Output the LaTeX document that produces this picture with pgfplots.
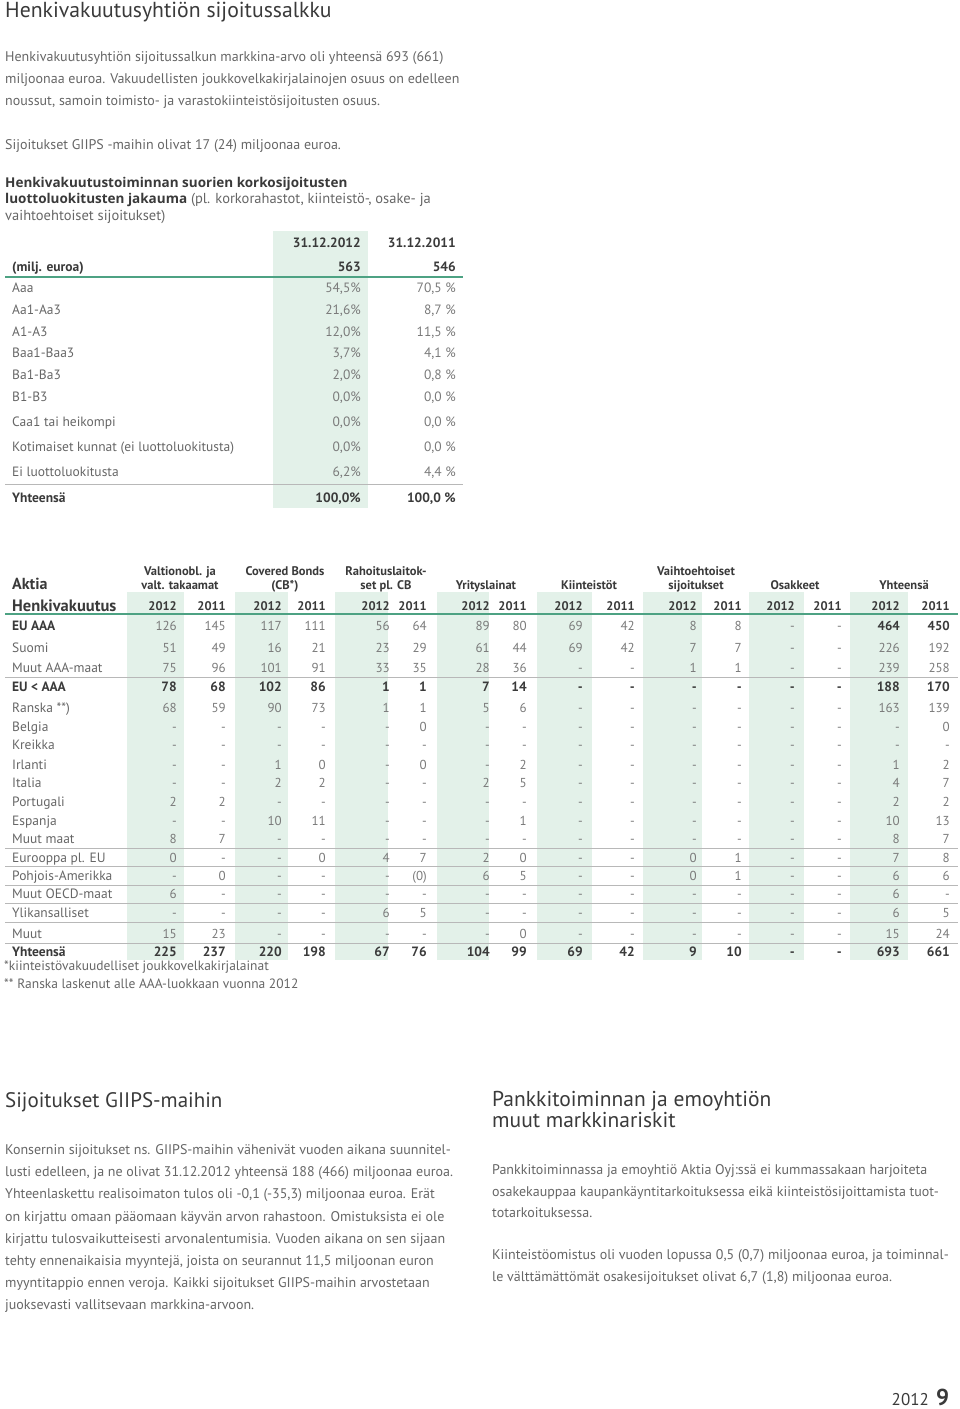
\documentclass[border=0pt]{standalone}
\usepackage{pgfplots}
\pgfplotsset{compat=1.18}
\usepackage{fontspec}
\setmainfont{PT Sans}
\newfontfamily\osans{Open Sans}

\definecolor{bodytxt}{HTML}{666666}
\definecolor{headtxt}{HTML}{3A3A3A}
\definecolor{valtxt}{HTML}{7A7A7A}
\definecolor{shade}{HTML}{E3F1E9}
\definecolor{greenrule}{HTML}{4DA283}
\definecolor{grayrule}{HTML}{B8B8B8}

\newcommand\fs[1]{\fontsize{#1}{#1}\selectfont}
% text line, left aligned on its baseline
\newcommand\tl[4][]{\node[anchor=base west, font=\fs{14}, text=bodytxt, #1] at (#2,#3) {#4};}
% right edges of the 16 value columns of the big table
\newcommand\colpos[1]{\ifcase#1\or177\or226\or282\or326\or390\or427\or490\or527\or583\or635\or697\or742\or795\or842\or900\or950\fi}
% one row of the big table: [style]{baseline}{label}{16 values}
\newcommand\vrow[4][]{%
  \node[anchor=base west, font=\fs{13.5}, text=bodytxt, #1] at (12,#2) {#3};
  \foreach \v [count=\i] in {#4} {
    \edef\xx{\colpos{\i}}
    \node[anchor=base east, font=\fs{13}, text=valtxt, #1] at (\xx,#2) {\v};
  }}
% one row of the rating table
\newcommand\rrow[4]{%
  \node[anchor=base west, font=\fs{13.5}, text=bodytxt] at (12,#1) {#2};
  \node[anchor=base east, font=\fs{13.5}, text=valtxt] at (361,#1) {#3};
  \node[anchor=base east, font=\fs{13.5}, text=valtxt] at (456,#1) {#4};}

\begin{document}
\begin{tikzpicture}
\begin{axis}[scale only axis, width=960pt, height=1409pt,
  xmin=0, xmax=960, ymin=0, ymax=1409, y dir=reverse,
  hide axis, clip=false]
\addplot[draw=none] coordinates {(0,0) (960,1409)};
% shaded 2012 columns
\addplot[fill=shade, draw=none] coordinates {(273,231) (368,231) (368,508) (273,508)};
\addplot[fill=shade, draw=none] coordinates {(127,592) (184,592) (184,960) (127,960)};
\addplot[fill=shade, draw=none] coordinates {(235,592) (288,592) (288,960) (235,960)};
\addplot[fill=shade, draw=none] coordinates {(335,592) (388,592) (388,960) (335,960)};
\addplot[fill=shade, draw=none] coordinates {(437,592) (489,592) (489,960) (437,960)};
\addplot[fill=shade, draw=none] coordinates {(537,592) (592,592) (592,960) (537,960)};
\addplot[fill=shade, draw=none] coordinates {(643,592) (702,592) (702,960) (643,960)};
\addplot[fill=shade, draw=none] coordinates {(749,592) (804,592) (804,960) (749,960)};
\addplot[fill=shade, draw=none] coordinates {(850,592) (908,592) (908,960) (850,960)};
% rules
\addplot[greenrule, line width=1.3pt] coordinates {(5,277) (463,277)};
\addplot[grayrule, line width=0.9pt] coordinates {(5,484) (463,484)};
\addplot[greenrule, line width=1.3pt] coordinates {(5,614) (958,614)};
\addplot[grayrule, line width=0.9pt] coordinates {(5,677) (958,677)};
\addplot[grayrule, line width=0.9pt] coordinates {(5,848) (958,848)};
\addplot[grayrule, line width=0.9pt] coordinates {(5,866) (958,866)};
\addplot[grayrule, line width=0.9pt] coordinates {(5,885) (958,885)};
\addplot[grayrule, line width=0.9pt] coordinates {(5,903) (958,903)};
\addplot[grayrule, line width=0.9pt] coordinates {(5,922) (958,922)};
\addplot[grayrule, line width=0.9pt] coordinates {(5,943) (958,943)};
\end{axis}

\begin{scope}[x=1pt, y=-1pt, yshift=1409pt, every node/.style={inner sep=0pt}]
% top text
\tl[font=\fs{21.7}, text=headtxt]{5}{18}{Henkivakuutusyhtiön sijoitussalkku}
\tl{5}{62}{Henkivakuutusyhtiön sijoitussalkun markkina-arvo oli yhteensä 693 (661)}
\tl{5}{84}{miljoonaa euroa. Vakuudellisten joukkovelkakirjalainojen osuus on edelleen}
\tl{5}{106}{noussut, samoin toimisto- ja varastokiinteistösijoitusten osuus.}
\tl{5}{150}{Sijoitukset GIIPS -maihin olivat 17 (24) miljoonaa euroa.}
\tl[font=\fs{14.5}]{5}{188}{\textcolor{headtxt}{\osans\fs{13.5}\bfseries Henkivakuutustoiminnan suorien korkosijoitusten}}
\tl[font=\fs{14.5}]{5}{204}{\textcolor{headtxt}{\osans\fs{13.5}\bfseries luottoluokitusten jakauma} (pl. korkorahastot, kiinteistö-, osake- ja}
\tl[font=\fs{14.5}]{5}{221}{vaihtoehtoiset sijoitukset)}

% rating table
\node[anchor=base east, font=\fs{13.5}\bfseries, text=headtxt] at (361,248) {31.12.2012};
\node[anchor=base east, font=\fs{13.5}\bfseries, text=headtxt] at (456,248) {31.12.2011};
\tl[font=\fs{13.5}\bfseries, text=headtxt]{12}{272}{(milj. euroa)}
\node[anchor=base east, font=\fs{13.5}\bfseries, text=headtxt] at (361,272) {563};
\node[anchor=base east, font=\fs{13.5}\bfseries, text=headtxt] at (456,272) {546};
\rrow{293}{Aaa}{54,5\%}{70,5 \%}
\rrow{315}{Aa1-Aa3}{21,6\%}{8,7 \%}
\rrow{337}{A1-A3}{12,0\%}{11,5 \%}
\rrow{358}{Baa1-Baa3}{3,7\%}{4,1 \%}
\rrow{380}{Ba1-Ba3}{2,0\%}{0,8 \%}
\rrow{402}{B1-B3}{0,0\%}{0,0 \%}
\rrow{427}{Caa1 tai heikompi}{0,0\%}{0,0 \%}
\rrow{452}{Kotimaiset kunnat (ei luottoluokitusta)}{0,0\%}{0,0 \%}
\rrow{477}{Ei luottoluokitusta}{6,2\%}{4,4 \%}
\tl[font=\fs{13.5}\bfseries, text=headtxt]{12}{503}{Yhteensä}
\node[anchor=base east, font=\fs{13.5}\bfseries, text=headtxt] at (361,503) {100,0\%};
\node[anchor=base east, font=\fs{13.5}\bfseries, text=headtxt] at (456,503) {100,0 \%};

% big table header
\tl[font=\fs{16}\bfseries, text=headtxt]{12}{590}{Aktia}
\tl[font=\fs{16.5}\bfseries, text=headtxt]{12}{612}{Henkivakuutus}
\begin{scope}[every node/.append style={anchor=base, font=\fs{12.5}\bfseries, text=headtxt}]
\node at (180,576) {Valtionobl. ja};   \node at (180,590) {valt. takaamat};
\node at (285,576) {Covered Bonds};    \node at (285,590) {(CB*)};
\node at (386,576) {Rahoituslaitok-};  \node at (386,590) {set pl. CB};
\node at (486,590) {Yrityslainat};
\node at (589,590) {Kiinteistöt};
\node at (696,576) {Vaihtoehtoiset};   \node at (696,590) {sijoitukset};
\node at (795,590) {Osakkeet};
\node at (904,590) {Yhteensä};
\end{scope}
\foreach \i in {1,...,16} {
  \edef\xx{\colpos{\i}}
  \ifodd\i \def\yr{2012}\else \def\yr{2011}\fi
  \node[anchor=base east, font=\fs{12.5}\bfseries, text=headtxt] at (\xx,611) {\yr};
}

% big table rows
\vrow{631}{\textcolor{headtxt}{\bfseries EU AAA}}{126,145,117,111,56,64,89,80,69,42,8,8,-,-,\textbf{\textcolor{headtxt}{464}},\textbf{\textcolor{headtxt}{450}}}
\vrow{653}{Suomi}{51,49,16,21,23,29,61,44,69,42,7,7,-,-,226,192}
\vrow{673}{Muut AAA-maat}{75,96,101,91,33,35,28,36,-,-,1,1,-,-,239,258}
\vrow[font=\fs{13.5}\bfseries, text=headtxt]{692}{EU < AAA}{78,68,102,86,1,1,7,14,-,-,-,-,-,-,188,170}
\vrow{713}{Ranska **)}{68,59,90,73,1,1,5,6,-,-,-,-,-,-,163,139}
\vrow{732}{Belgia}{-,-,-,-,-,0,-,-,-,-,-,-,-,-,-,0}
\vrow{750}{Kreikka}{-,-,-,-,-,-,-,-,-,-,-,-,-,-,-,-}
\vrow{770}{Irlanti}{-,-,1,0,-,0,-,2,-,-,-,-,-,-,1,2}
\vrow{788}{Italia}{-,-,2,2,-,-,2,5,-,-,-,-,-,-,4,7}
\vrow{807}{Portugali}{2,2,-,-,-,-,-,-,-,-,-,-,-,-,2,2}
\vrow{826}{Espanja}{-,-,10,11,-,-,-,1,-,-,-,-,-,-,10,13}
\vrow{844}{Muut maat}{8,7,-,-,-,-,-,-,-,-,-,-,-,-,8,7}
\vrow{863}{Eurooppa pl. EU}{0,-,-,0,4,7,2,0,-,-,0,1,-,-,7,8}
\vrow{881}{Pohjois-Amerikka}{-,0,-,-,-,(0),6,5,-,-,0,1,-,-,6,6}
\vrow{899}{Muut OECD-maat}{6,-,-,-,-,-,-,-,-,-,-,-,-,-,6,-}
\vrow{918}{Ylikansalliset}{-,-,-,-,6,5,-,-,-,-,-,-,-,-,6,5}
\vrow{939}{Muut}{15,23,-,-,-,-,-,0,-,-,-,-,-,-,15,24}
\vrow[font=\fs{13.5}\bfseries, text=headtxt]{957}{Yhteensä}{225,237,220,198,67,76,104,99,69,42,9,10,-,-,693,661}
\tl[font=\fs{13.5}]{4}{971}{*kiinteistövakuudelliset joukkovelkakirjalainat}
\tl[font=\fs{13.5}]{4}{989}{** Ranska laskenut alle AAA-luokkaan vuonna 2012}

% bottom left column
\tl[font=\fs{21}, text=headtxt]{5}{1108}{Sijoitukset GIIPS-maihin}
\tl{5}{1155}{Konsernin sijoitukset ns. GIIPS-maihin vähenivät vuoden aikana suunnitel-}
\tl{5}{1177}{lusti edelleen, ja ne olivat 31.12.2012 yhteensä 188 (466) miljoonaa euroa.}
\tl{5}{1199}{Yhteenlaskettu realisoimaton tulos oli -0,1 (-35,3) miljoonaa euroa. Erät}
\tl{5}{1222}{on kirjattu omaan pääomaan käyvän arvon rahastoon. Omistuksista ei ole}
\tl{5}{1244}{kirjattu tulosvaikutteisesti arvonalentumisia. Vuoden aikana on sen sijaan}
\tl{5}{1266}{tehty ennenaikaisia myyntejä, joista on seurannut 11,5 miljoonan euron}
\tl{5}{1288}{myyntitappio ennen veroja. Kaikki sijoitukset GIIPS-maihin arvostetaan}
\tl{5}{1310}{juoksevasti vallitsevaan markkina-arvoon.}

% bottom right column
\tl[font=\fs{21.5}, text=headtxt]{492}{1107}{Pankkitoiminnan ja emoyhtiön}
\tl[font=\fs{21.5}, text=headtxt]{492}{1128}{muut markkinariskit}
\tl{492}{1175}{Pankkitoiminnassa ja emoyhtiö Aktia Oyj:ssä ei kummassakaan harjoiteta}
\tl{492}{1197}{osakekauppaa kaupankäyntitarkoituksessa eikä kiinteistösijoittamista tuot-}
\tl{492}{1218}{totarkoituksessa.}
\tl{492}{1260}{Kiinteistöomistus oli vuoden lopussa 0,5 (0,7) miljoonaa euroa, ja toiminnal-}
\tl{492}{1282}{le välttämättömät osakesijoitukset olivat 6,7 (1,8) miljoonaa euroa.}

% page number
\node[anchor=base east, font=\fs{17}, text=headtxt] at (929,1405) {2012};
\node[anchor=base west, font=\fs{23}\bfseries, text=headtxt] at (936,1405) {9};
\end{scope}
\end{tikzpicture}
\end{document}
